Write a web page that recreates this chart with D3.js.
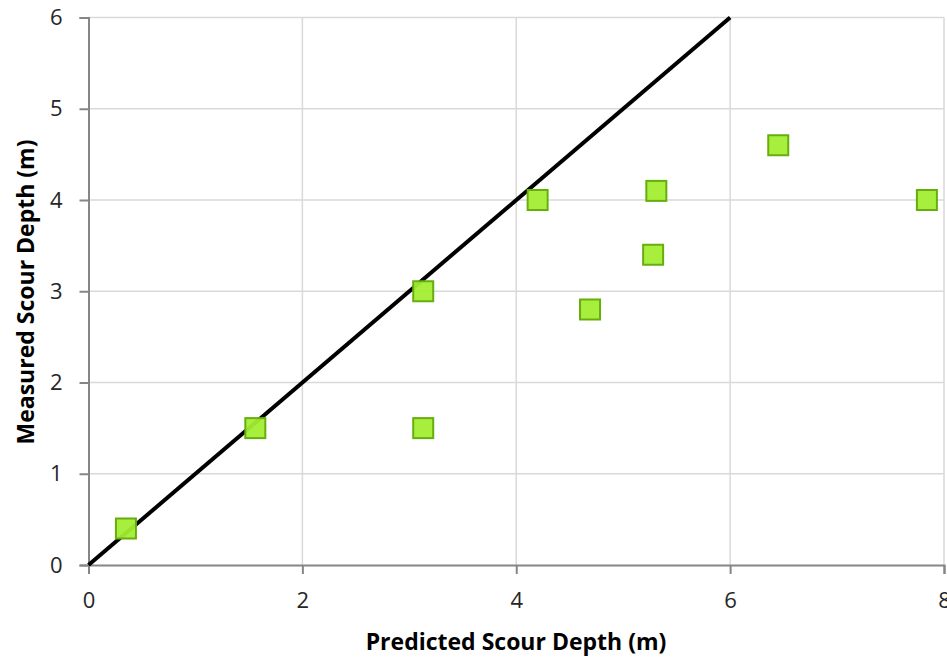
<!DOCTYPE html>
<html>
<head>
<meta charset="utf-8">
<script src="https://cdn.jsdelivr.net/npm/d3@7"></script>
<style>
  body { margin: 0; background: #fff; }
  svg { display: block; font-family: "Open Sans", sans-serif; }
</style>
</head>
<body>
<svg width="947" height="658"></svg>
<script>
// Predicted vs measured scour depth (m)
const predicted = [0.35, 1.56, 3.13, 3.13, 4.2, 4.69, 5.28, 5.31, 6.45, 7.84];
const measured  = [0.4, 1.5, 3.0, 1.5, 4.0, 2.8, 3.4, 4.1, 4.6, 4.0];

// 1:1 reference line
const lineX = [0, 6];
const lineY = [0, 6];

const xTicks = [0, 2, 4, 6, 8];
const yTicks = [0, 1, 2, 3, 4, 5, 6];

const svg = d3.select("svg");

const margin = { left: 88.5, right: 3, top: 17.5, bottom: 93 };
const width = 947;
const height = 658;

const xScale = d3.scaleLinear().domain([0, 8]).range([margin.left, width - margin.right]);
const yScale = d3.scaleLinear().domain([0, 6]).range([height - margin.bottom, margin.top]);

// Gridlines
svg.append("g")
  .selectAll("line")
  .data(xTicks.slice(1))
  .enter()
  .append("line")
  .attr("x1", d => xScale(d))
  .attr("x2", d => xScale(d))
  .attr("y1", yScale(0))
  .attr("y2", yScale(6))
  .attr("stroke", "#d9d9d9")
  .attr("stroke-width", 1.5);

svg.append("g")
  .selectAll("line")
  .data(yTicks.slice(1))
  .enter()
  .append("line")
  .attr("x1", xScale(0))
  .attr("x2", xScale(8))
  .attr("y1", d => yScale(d))
  .attr("y2", d => yScale(d))
  .attr("stroke", "#d9d9d9")
  .attr("stroke-width", 1.5);

// Axes
const xAxis = svg.append("g")
  .attr("transform", `translate(0,${yScale(0)})`)
  .call(d3.axisBottom(xScale).tickValues(xTicks).tickFormat(d3.format("d")).tickSize(9).tickPadding(18));

const yAxis = svg.append("g")
  .attr("transform", `translate(${xScale(0)},0)`)
  .call(d3.axisLeft(yScale).tickValues(yTicks).tickFormat(d3.format("d")).tickSize(9).tickPadding(17));

[xAxis, yAxis].forEach(ax => {
  ax.select(".domain").attr("stroke", "#868686").attr("stroke-width", 2);
  ax.selectAll(".tick line").attr("stroke", "#868686").attr("stroke-width", 2);
  ax.selectAll(".tick text")
    .attr("fill", "#262626")
    .style("font-size", "22px")
    .style("font-family", "'Open Sans', sans-serif");
});

// 1:1 line
svg.append("line")
  .attr("x1", xScale(lineX[0]))
  .attr("y1", yScale(lineY[0]))
  .attr("x2", xScale(lineX[1]))
  .attr("y2", yScale(lineY[1]))
  .attr("stroke", "#000")
  .attr("stroke-width", 4);

// Points
const points = predicted.map((p, i) => ({ x: p, y: measured[i] }));
const size = 20;

svg.append("g")
  .selectAll("rect")
  .data(points)
  .enter()
  .append("rect")
  .attr("x", d => xScale(d.x) - size / 2)
  .attr("y", d => yScale(d.y) - size / 2)
  .attr("width", size)
  .attr("height", size)
  .attr("fill", "#a3ee33")
  .attr("fill-opacity", 0.95)
  .attr("stroke", "#66ae0e")
  .attr("stroke-width", 2);

// Axis titles
svg.append("text")
  .attr("x", 516)
  .attr("y", 650)
  .attr("text-anchor", "middle")
  .style("font-size", "23px")
  .style("font-weight", "bold")
  .text("Predicted Scour Depth (m)");

svg.append("text")
  .attr("transform", "translate(34,292) rotate(-90)")
  .attr("text-anchor", "middle")
  .style("font-size", "23px")
  .style("font-weight", "bold")
  .text("Measured Scour Depth (m)");
</script>
</body>
</html>
